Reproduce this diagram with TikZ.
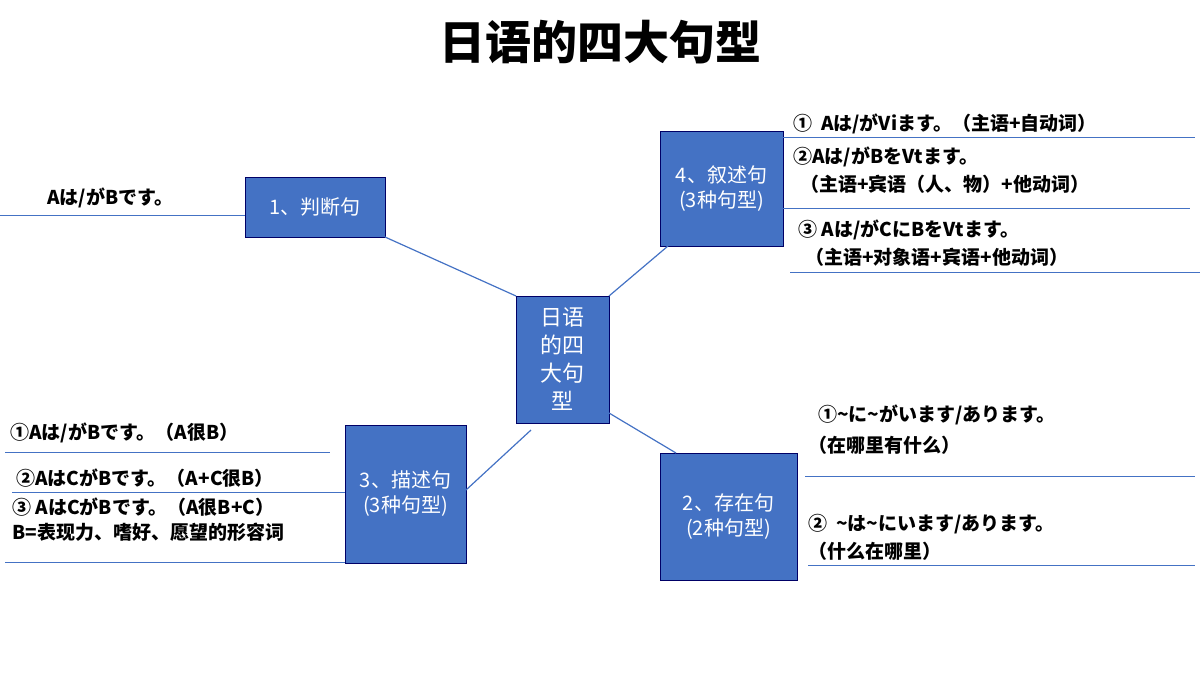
\documentclass[tikz,border=0pt]{standalone}
\usepackage{fontspec}
\setmainfont{Noto Sans CJK SC}
\begin{document}
\begin{tikzpicture}[x=0.5pt,y=-0.5pt]
\tikzset{
 bbox/.style={draw=blue!40!black,fill=cbox,text=white,font=\fontsize{10}{12.5}\selectfont,align=center,inner sep=0pt},
 link/.style={draw=cbox,line width=0.6pt},
 uline/.style={draw=cbox,line width=0.5pt},
 lab/.style={font=\bfseries\fontsize{9.5}{11}\selectfont,anchor=west,inner sep=0pt},
}
\definecolor{cbox}{HTML}{4472C4}
\useasboundingbox (0,0) rectangle (1200,675);
\node[font=\bfseries\fontsize{23}{26}\selectfont] (title) at (600,42) {日语的四大句型};
\node[bbox,minimum width=46.5pt,minimum height=63.5pt,font=\fontsize{11}{14}\selectfont] (c) at (562.5,359.5) {日语\\的四\\大句\\型};
\node[bbox,minimum width=70pt,minimum height=30pt] (b1) at (315,207) {1、判断句};
\node[bbox,minimum width=61.5pt,minimum height=57.5pt] (b4) at (721.5,188.5) {4、叙述句\\(3种句型)};
\node[bbox,minimum width=60.5pt,minimum height=69pt] (b3) at (405.5,494) {3、描述句\\(3种句型)};
\node[bbox,minimum width=68.5pt,minimum height=63.5pt] (b2) at (728.5,516.5) {2、存在句\\(2种句型)};
\coordinate (p1) at (385,237); \coordinate (q1) at (516,296);
\coordinate (p4) at (668,246); \coordinate (q4) at (609,296);
\coordinate (p3) at (466,490); \coordinate (q3) at (531,430);
\coordinate (p2) at (676,453); \coordinate (q2) at (609,413);
\draw[link] (p1) -- (q1);
\draw[link] (p4) -- (q4);
\draw[link] (p3) -- (q3);
\draw[link] (p2) -- (q2);
% left of box1
\coordinate (l1a) at (0,215); \coordinate (l1b) at (245,215);
\draw[uline] (l1a) -- (l1b);
\node[lab] (t1) at (47,198) {Aは/がBです。};
% box4
\coordinate (l4a) at (783,137); \coordinate (l4b) at (1195,137);
\coordinate (l4c) at (783,208); \coordinate (l4d) at (1190,208);
\coordinate (l4e) at (790,272); \coordinate (l4f) at (1200,272);
\draw[uline] (l4a) -- (l4b); \draw[uline] (l4c) -- (l4d); \draw[uline] (l4e) -- (l4f);
\node[lab] (t41) at (793,124) {①\ \ Aは/がViます。（主语+自动词）};
\node[lab] (t42) at (793,157) {②Aは/がBをVtます。};
\node[lab] (t43) at (800,184) {（主语+宾语（人、物）+他动词）};
\node[lab] (t44) at (798,230) {③ Aは/がCにBをVtます。};
\node[lab] (t45) at (805,257) {（主语+对象语+宾语+他动词）};
% box2
\coordinate (l2a) at (805,476); \coordinate (l2b) at (1195,476);
\coordinate (l2c) at (808,565); \coordinate (l2d) at (1195,565);
\draw[uline] (l2a) -- (l2b); \draw[uline] (l2c) -- (l2d);
\node[lab] (t21) at (818,415) {①\textasciitilde に\textasciitilde がいます/あります。};
\node[lab] (t22) at (808,445) {（在哪里有什么）};
\node[lab] (t23) at (808,524) {②\ \ \textasciitilde は\textasciitilde にいます/あります。};
\node[lab] (t24) at (808,551) {（什么在哪里）};
% box3
\coordinate (l3a) at (5,452); \coordinate (l3b) at (330,452);
\coordinate (l3c) at (12,492); \coordinate (l3d) at (345,492);
\coordinate (l3e) at (5,562); \coordinate (l3f) at (345,562);
\draw[uline] (l3a) -- (l3b); \draw[uline] (l3c) -- (l3d); \draw[uline] (l3e) -- (l3f);
\node[lab] (t31) at (10,433) {①Aは/がBです。（A很B）};
\node[lab] (t32) at (16,478) {②AはCがBです。（A+C很B）};
\node[lab] (t33) at (12,507) {③ AはCがBです。（A很B+C）};
\node[lab] (t34) at (12,532) {B=表现力、嗜好、愿望的形容词};
\end{tikzpicture}
\end{document}
